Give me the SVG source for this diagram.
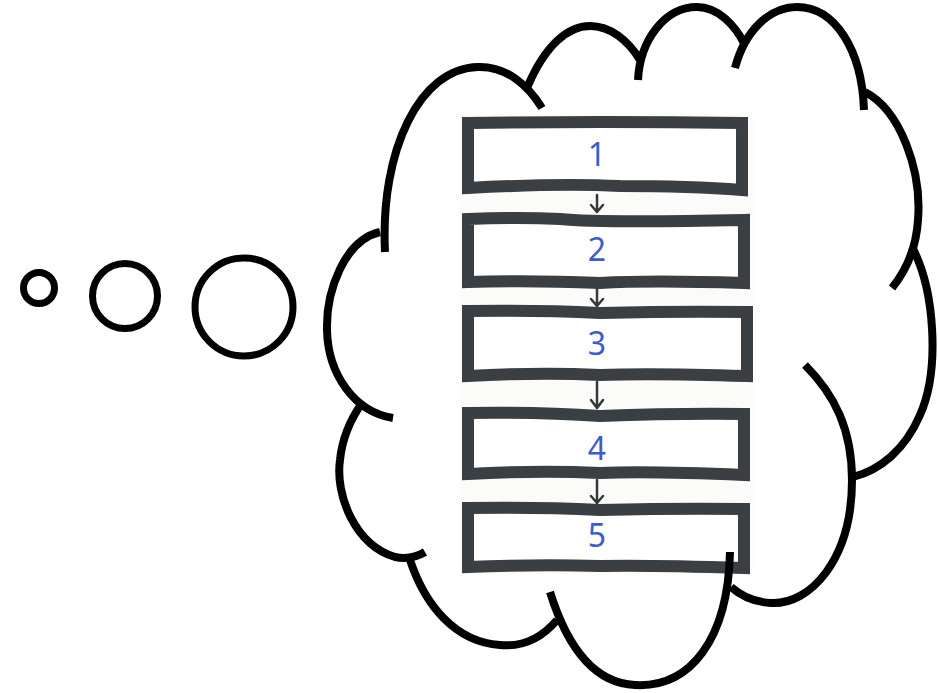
<svg xmlns="http://www.w3.org/2000/svg" width="938" height="693" viewBox="0 0 938 693">
<defs>
<style>
.cloud{fill:none;stroke:#000;stroke-width:8;stroke-linecap:butt}
.bub{fill:none;stroke:#000;stroke-width:7}
.box{fill:#fff;stroke:#3a3f43;stroke-width:12;stroke-linejoin:miter}
.num{font-family:"Noto Sans","DejaVu Sans",sans-serif;font-size:32px;fill:#3d5ccc;text-anchor:middle}
.arr{fill:none;stroke:#34383c;stroke-width:2.5;stroke-linecap:round;stroke-linejoin:round}
</style>
</defs>
<rect width="938" height="693" fill="#fff"/>
<g id="bubbles">
<circle class="bub" cx="39" cy="288" r="15.5"/>
<circle class="bub" cx="125" cy="296" r="32.5"/>
<circle class="bub" cx="244" cy="307" r="49"/>
</g>
<g id="photo">
<rect x="460" y="114" width="293" height="460" fill="#fbfbfa"/>
</g>
<g id="step1">
<path class="box" d="M468,123 Q600,121 742,123 L742,190 Q690,186 620,186 Q560,183 468,188 Z"/>
<text class="num" x="597" y="166">1</text>
</g>
<g id="step2">
<path class="box" d="M468,219 Q520,217 560,219 Q600,223 744,220 L744,283 Q650,280 600,283 Q530,280 468,282 Z"/>
<text class="num" x="597" y="261">2</text>
</g>
<g id="step3">
<path class="box" d="M468,311 Q540,310 600,313 Q680,311 747,312 L747,376 Q650,373 600,375 Q540,372 468,376 Z"/>
<text class="num" x="597" y="355">3</text>
</g>
<g id="step4">
<path class="box" d="M468,413 Q540,412 600,416 Q680,413 744,414 L744,475 Q650,471 600,473 Q540,470 468,474 Z"/>
<text class="num" x="597" y="460">4</text>
</g>
<g id="step5">
<path class="box" d="M468,508 Q540,507 600,510 Q680,508 744,509 L744,568 Q650,565 600,566 Q540,564 468,567 Z"/>
<text class="num" x="597" y="547">5</text>
</g>
<g id="connectors">
<path class="arr" d="M597,195 L597,212 M591,205 L597,212 L603,205"/>
<path class="arr" d="M597,289 L597,306 M591,299 L597,306 L603,299"/>
<path class="arr" d="M597,382 L597,408 M591,400 L597,408 L603,400"/>
<path class="arr" d="M597,480 L597,503 M591,496 L597,503 L603,496"/>
</g>
<g id="thought-cloud">
<path class="cloud" d="M385,252 C380,150 420,68 478,67 C506,66 528,85 542,108"/>
<path class="cloud" d="M527,88 C545,45 568,26 590,26 C610,26 628,40 640,60"/>
<path class="cloud" d="M638,80 C640,40 665,7 697,7 C718,7 735,25 745,45"/>
<path class="cloud" d="M735,68 C745,30 770,7 797,7 C835,7 862,50 864,110"/>
<path class="cloud" d="M865,92 C900,110 922,170 918,220 C916,250 905,272 892,288"/>
<path class="cloud" d="M912,247 C935,290 940,370 920,415 C905,450 880,470 853,477"/>
<path class="cloud" d="M805,365 C835,395 852,430 852,480 C852,560 810,605 771,603 C752,602 740,595 731,587"/>
<path class="cloud" d="M730,552 C728,640 690,688 635,685 C590,683 565,640 550,592"/>
<path class="cloud" d="M557,620 C540,640 520,647 500,645 C455,642 425,605 410,560"/>
<path class="cloud" d="M425,552 C415,558 405,559 395,557 C355,545 335,495 340,460 C342,440 350,420 362,403"/>
<path class="cloud" d="M380,232 C345,240 326,290 327,330 C328,375 355,412 393,418"/>
</g>
</svg>
